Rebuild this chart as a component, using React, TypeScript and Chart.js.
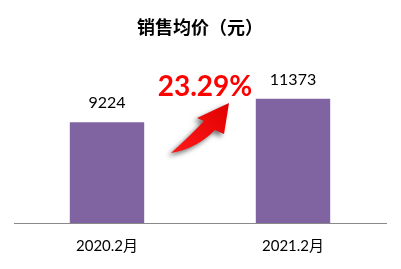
import React, { useEffect, useRef } from "react";
import { Chart, registerables } from "chart.js";

Chart.register(...registerables);

const categories = ["2020.2月", "2021.2月"];
const avgPrice = [9224, 11373];
const titleText = "销售均价（元）";
const growthText = "23.29%";

const BAR_COLOR = "#8064A2";

// Title, growth callout with curved arrow, and value labels above bars
const decorations = {
  id: "decorations",
  afterDatasetsDraw(chart: any) {
    const { ctx } = chart;
    const meta = chart.getDatasetMeta(0);

    // value labels
    ctx.save();
    ctx.fillStyle = "#000";
    ctx.font = "16px Lato, 'Open Sans', sans-serif";
    ctx.textAlign = "center";
    ctx.textBaseline = "bottom";
    meta.data.forEach((bar: any, i: number) => {
      ctx.fillText(String(avgPrice[i]), bar.x, bar.y - 11);
    });
    ctx.restore();

    // title
    ctx.save();
    ctx.fillStyle = "#000";
    ctx.font = "bold 18px 'Noto Sans CJK SC', sans-serif";
    ctx.textAlign = "center";
    ctx.textBaseline = "middle";
    ctx.fillText(titleText, 200, 27);
    ctx.restore();

    // curved arrow
    const drawArrow = () => {
      ctx.beginPath();
      ctx.moveTo(171, 153);
      ctx.quadraticCurveTo(190, 136, 204, 121);
      ctx.lineTo(197, 118);
      ctx.lineTo(229, 103);
      ctx.lineTo(224, 134);
      ctx.lineTo(215, 130);
      ctx.quadraticCurveTo(196, 149, 171, 153);
      ctx.closePath();
    };
    ctx.save();
    ctx.shadowColor = "rgba(0,0,0,0.55)";
    ctx.shadowBlur = 5;
    ctx.shadowOffsetX = -3;
    ctx.shadowOffsetY = 3;
    const grad = ctx.createLinearGradient(172, 153, 229, 103);
    grad.addColorStop(0, "#ff1a1a");
    grad.addColorStop(1, "#e00000");
    ctx.fillStyle = grad;
    drawArrow();
    ctx.fill();
    ctx.restore();

    // growth percentage
    ctx.save();
    ctx.fillStyle = "#ff0000";
    ctx.font = "bold 28px Lato, 'Open Sans', sans-serif";
    ctx.textAlign = "center";
    ctx.textBaseline = "alphabetic";
    ctx.fillText(growthText, 205, 96);
    ctx.restore();
  },
};

export default function App() {
  const canvasRef = useRef<HTMLCanvasElement | null>(null);

  useEffect(() => {
    document.body.style.margin = "0";
    const chart = new Chart(canvasRef.current!, {
      type: "bar",
      data: {
        labels: categories,
        datasets: [
          {
            data: avgPrice,
            backgroundColor: BAR_COLOR,
            barPercentage: 0.4,
            categoryPercentage: 1,
          },
        ],
      },
      options: {
        animation: false,
        responsive: false,
        layout: { padding: { left: 14, right: 15, top: 70, bottom: 8 } },
        plugins: {
          legend: { display: false },
          tooltip: { enabled: false },
        },
        scales: {
          x: {
            grid: { display: false },
            border: { display: true, color: "#898989", width: 1 },
            ticks: {
              color: "#000",
              font: { size: 15, family: "Lato, 'Noto Sans CJK SC', sans-serif" },
              padding: 6,
            },
          },
          y: { display: false, min: 0, max: 14000 },
        },
      },
      plugins: [decorations],
    });
    return () => chart.destroy();
  }, []);

  return (
    <div style={{ position: "fixed", left: 0, top: 0, width: 401, height: 269, background: "#fff" }}>
      <canvas ref={canvasRef} width={401} height={269} style={{ width: 401, height: 269 }} />
    </div>
  );
}
